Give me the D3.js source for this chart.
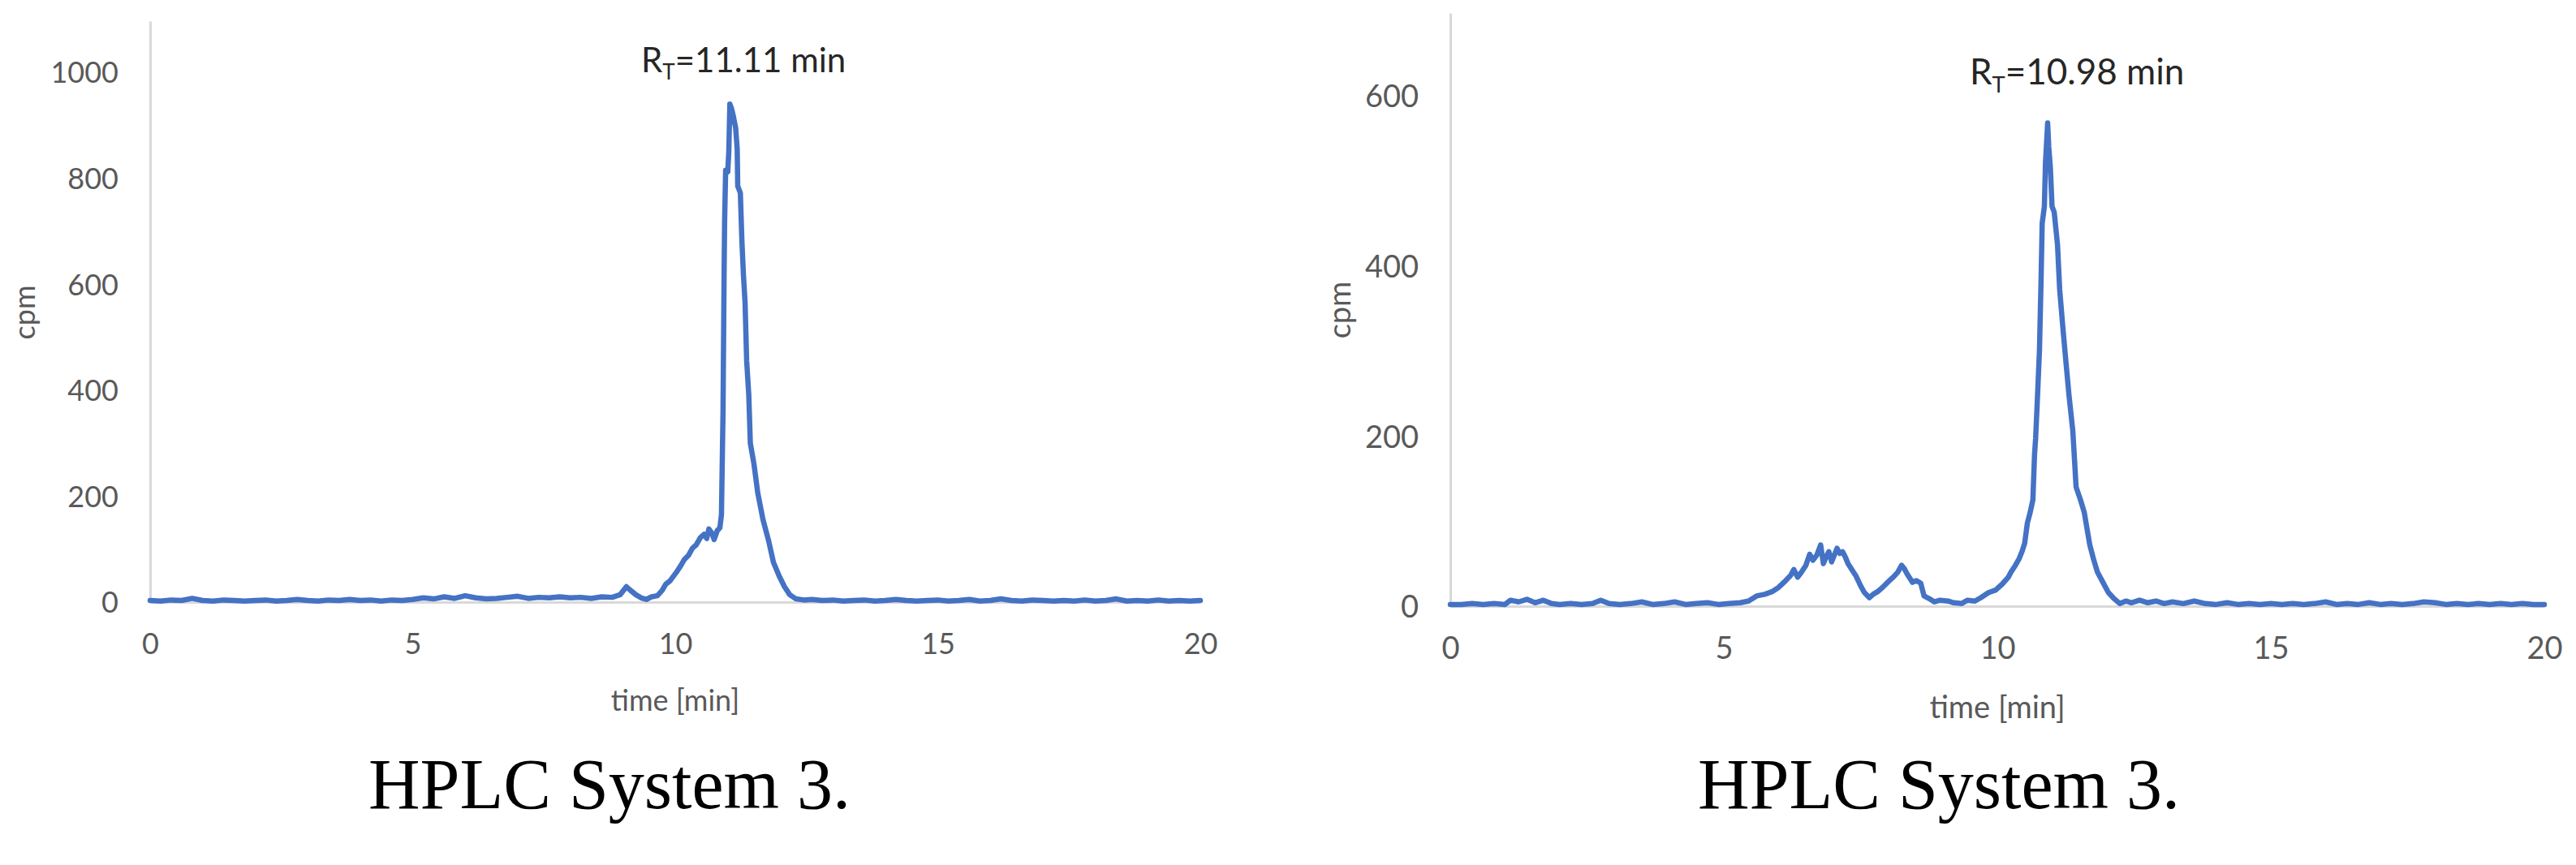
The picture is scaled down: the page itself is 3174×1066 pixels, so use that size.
<!DOCTYPE html>
<html>
<head>
<meta charset="utf-8">
<script src="https://cdn.jsdelivr.net/npm/d3@7/dist/d3.min.js"></script>
<style>
  html, body { margin: 0; padding: 0; background: #ffffff; }
  svg { display: block; }
</style>
</head>
<body>
<svg id="chart" width="3174" height="1066"></svg>
<script>
// ---------------- DATA ----------------
const xTicks = [0, 5, 10, 15, 20];
const yTicksLeft = [0, 200, 400, 600, 800, 1000];
const yTicksRight = [0, 200, 400, 600];
const xTitle = "time [min]";
const yTitle = "cpm";
const caption = "HPLC System 3.";
const rtLeft = "11.11 min";
const rtRight = "10.98 min";

const leftTime = [0.0,0.2,0.4,0.6,0.8,1.0,1.2,1.4,1.6,1.8,2.0,2.2,2.4,2.6,2.8,3.0,3.2,3.4,3.6,3.8,4.0,4.2,4.4,4.6,4.8,5.0,5.2,5.4,5.6,5.8,6.0,6.2,6.4,6.6,6.8,7.0,7.2,7.4,7.6,7.8,8.0,8.2,8.4,8.6,8.8,8.95,9.07,9.15,9.25,9.35,9.45,9.55,9.66,9.75,9.82,9.9,10.02,10.1,10.17,10.25,10.33,10.4,10.48,10.55,10.6,10.64,10.7,10.74,10.8,10.85,10.88,10.91,10.93,10.94,10.96,11.0,11.02,11.04,11.07,11.1,11.15,11.18,11.19,11.24,11.27,11.3,11.33,11.36,11.4,11.43,11.5,11.57,11.67,11.78,11.87,11.98,12.08,12.18,12.3,12.45,12.6,12.8,13.0,13.2,13.4,13.6,13.8,14.0,14.2,14.4,14.6,14.8,15.0,15.2,15.4,15.6,15.8,16.0,16.2,16.4,16.6,16.8,17.0,17.2,17.4,17.6,17.8,18.0,18.2,18.4,18.6,18.8,19.0,19.2,19.4,19.6,19.8,20.0];
const leftCpm = [3,2,4,3,7,3,2,4,3,2,3,4,2,3,5,3,2,4,3,5,3,4,2,4,3,5,8,6,10,7,12,8,6,7,9,11,7,9,8,10,8,9,7,10,9,14,29,22,14,8,5,10,12,22,34,40,56,68,80,88,102,108,122,128,120,138,130,118,135,140,165,360,615,718,815,812,850,940,932,920,895,855,785,772,680,615,565,455,392,300,260,207,156,115,75,49,29,14,6,4,5,3,4,2,3,4,2,3,5,3,2,3,4,2,3,5,2,3,6,3,2,4,3,2,3,2,4,2,3,6,2,3,2,4,2,3,2,3];

const rightTime = [0.0,0.2,0.4,0.6,0.8,1.0,1.1,1.25,1.4,1.55,1.7,1.85,2.0,2.2,2.4,2.6,2.75,2.9,3.1,3.3,3.5,3.7,3.9,4.1,4.3,4.5,4.7,4.9,5.1,5.3,5.45,5.6,5.75,5.88,6.0,6.13,6.22,6.28,6.35,6.42,6.5,6.57,6.63,6.7,6.77,6.82,6.87,6.92,6.97,7.02,7.07,7.12,7.17,7.22,7.27,7.35,7.42,7.5,7.57,7.66,7.73,7.81,7.9,8.01,8.11,8.18,8.25,8.3,8.35,8.45,8.52,8.6,8.66,8.75,8.85,8.95,9.1,9.2,9.35,9.45,9.59,9.7,9.84,9.97,10.09,10.2,10.25,10.33,10.4,10.45,10.5,10.55,10.6,10.65,10.68,10.7,10.73,10.77,10.8,10.82,10.86,10.88,10.92,10.94,10.97,11.0,11.04,11.1,11.14,11.2,11.25,11.31,11.38,11.44,11.52,11.59,11.69,11.76,11.83,11.93,12.03,12.13,12.24,12.35,12.45,12.6,12.75,12.9,13.05,13.2,13.4,13.6,13.8,14.0,14.2,14.4,14.6,14.8,15.0,15.2,15.4,15.6,15.8,16.0,16.2,16.4,16.6,16.8,17.0,17.2,17.4,17.6,17.8,18.0,18.2,18.4,18.6,18.8,19.0,19.2,19.4,19.6,19.8,20.0];
const rightCpm = [2,2,3,2,3,2,7,5,8,4,7,3,2,3,2,3,7,3,2,3,5,2,3,5,2,3,4,2,3,4,6,12,14,17,22,30,36,43,34,40,48,61,54,60,72,50,58,64,52,60,68,62,64,58,50,42,35,24,16,10,14,17,22,29,35,40,48,44,38,28,30,27,12,9,5,7,6,4,3,7,6,10,16,19,26,34,40,48,56,64,74,98,110,125,178,197,240,300,385,450,470,521,568,540,515,470,463,425,372,326,290,248,206,140,125,110,72,55,40,28,16,9,3,6,4,7,4,6,3,5,3,6,3,2,4,2,3,2,3,2,3,2,3,5,2,3,2,4,2,3,2,3,5,4,2,3,2,3,2,3,2,3,2,2];

// ---------------- LAYOUT ----------------
const panels = [
  { time: leftTime, cpm: leftCpm, yTicks: yTicksLeft, rt: rtLeft,
    x0: 185, x1: 1479, yZero: 742, yRefVal: 1000, yRefPx: 89, yTopPx: 26,
    tickFont: 36, yTitleX: 30, yTitleY: 385, xTitleY: 863,
    rtX: 790, rtY: 89, rtFont: 42, capX: 751, capY: 996, xLabY: 51 },
  { time: rightTime, cpm: rightCpm, yTicks: yTicksRight, rt: rtRight,
    x0: 1787, x1: 3135, yZero: 747, yRefVal: 600, yRefPx: 118, yTopPx: 16,
    tickFont: 38, yTitleX: 1650, yTitleY: 382, xTitleY: 871,
    rtX: 2427, rtY: 104, rtFont: 44, capX: 2389, capY: 996, xLabY: 51 }
];

const svg = d3.select("#chart");
const tickColor = "#595959";
const axisColor = "#d9d9d9";
const lineColor = "#4472C4";
const sansFont = "Lato, 'Open Sans', sans-serif";

panels.forEach(p => {
  const x = d3.scaleLinear().domain([0, 20]).range([p.x0, p.x1]);
  const pxPerUnit = (p.yZero - p.yRefPx) / p.yRefVal;
  const yTopVal = (p.yZero - p.yTopPx) / pxPerUnit;
  const y = d3.scaleLinear().domain([0, yTopVal]).range([p.yZero, p.yTopPx]);

  // Y axis
  const gy = svg.append("g").attr("transform", `translate(${p.x0},0)`)
    .call(d3.axisLeft(y).tickValues(p.yTicks).tickFormat(d3.format("d"))
      .tickSize(0).tickSizeOuter(0).tickPadding(39));
  gy.select(".domain").attr("stroke", axisColor).attr("stroke-width", 3);
  gy.selectAll("text").attr("fill", tickColor).attr("font-family", sansFont)
    .attr("font-size", p.tickFont).attr("dy", "0.36em");

  // X axis
  const gx = svg.append("g").attr("transform", `translate(0,${p.yZero})`)
    .call(d3.axisBottom(x).tickValues(xTicks).tickFormat(d3.format("d"))
      .tickSize(0).tickSizeOuter(0).tickPadding(0));
  gx.select(".domain").attr("stroke", axisColor).attr("stroke-width", 3);
  gx.selectAll("text").attr("fill", tickColor).attr("font-family", sansFont)
    .attr("font-size", p.tickFont).attr("y", p.xLabY).attr("dy", "0.36em");

  // Line
  const pts = p.time.map((t, i) => [t, p.cpm[i]]);
  svg.append("path").datum(pts)
    .attr("fill", "none").attr("stroke", lineColor).attr("stroke-width", 6.5)
    .attr("stroke-linejoin", "round").attr("stroke-linecap", "round")
    .attr("d", d3.line().x(d => x(d[0])).y(d => y(d[1])));

  // Axis titles
  svg.append("text").text(yTitle)
    .attr("transform", `translate(${p.yTitleX},${p.yTitleY}) rotate(-90)`)
    .attr("text-anchor", "middle").attr("dy", "0.36em")
    .attr("fill", tickColor).attr("font-family", sansFont).attr("font-size", p.tickFont);
  svg.append("text").text(xTitle)
    .attr("x", (p.x0 + p.x1) / 2).attr("y", p.xTitleY).attr("dy", "0.36em")
    .attr("text-anchor", "middle")
    .attr("fill", tickColor).attr("font-family", sansFont).attr("font-size", p.tickFont);

  // RT annotation
  const rt = svg.append("text").attr("x", p.rtX).attr("y", p.rtY)
    .attr("fill", "#262626").attr("font-family", sansFont).attr("font-size", p.rtFont);
  rt.append("tspan").text("R");
  rt.append("tspan").text("T").attr("font-size", p.rtFont * 0.62).attr("dy", p.rtFont * 0.22);
  rt.append("tspan").text("=" + p.rt).attr("dy", -p.rtFont * 0.22);

  // Caption
  svg.append("text").text(caption)
    .attr("x", p.capX).attr("y", p.capY).attr("text-anchor", "middle")
    .attr("fill", "#000000").attr("font-family", "'Liberation Serif', 'DejaVu Serif', serif")
    .attr("font-size", 88);
});
</script>
</body>
</html>
